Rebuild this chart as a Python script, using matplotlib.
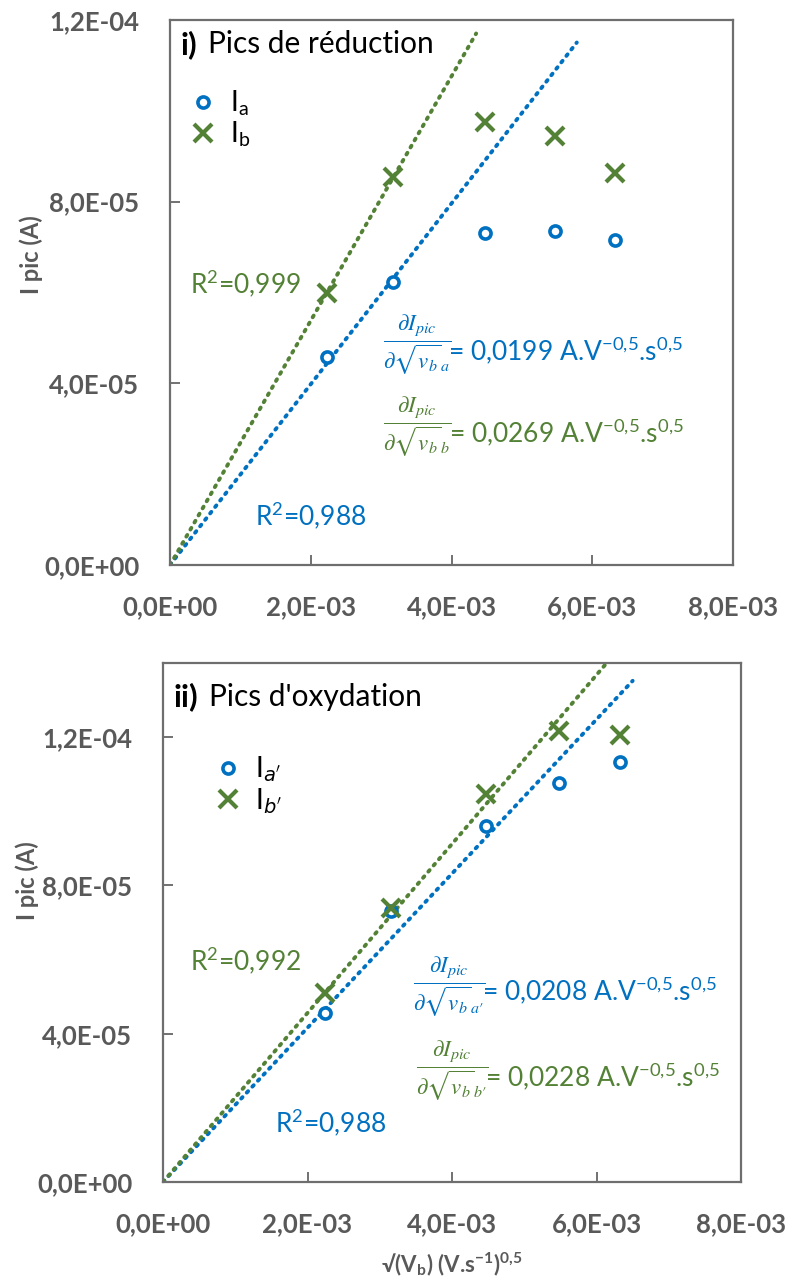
import matplotlib
matplotlib.use("Agg")
import matplotlib.pyplot as plt
from matplotlib.ticker import FuncFormatter, MultipleLocator
import numpy as np

# sqrt of the scan rate, (V/s)^0.5
sqrt_v = [2.236e-3, 3.162e-3, 4.472e-3, 5.477e-3, 6.325e-3]

# i) reduction peaks (A)
red_a = [4.58e-5, 6.23e-5, 7.31e-5, 7.35e-5, 7.15e-5]
red_b = [5.99e-5, 8.54e-5, 9.75e-5, 9.44e-5, 8.63e-5]
red_slope = [0.0199, 0.0269]
red_fit_end = [5.78e-3, 4.35e-3]
red_r2 = ["0,988", "0,999"]

# ii) oxidation peaks (A)
ox_a = [4.56e-5, 7.30e-5, 9.60e-5, 10.76e-5, 11.33e-5]
ox_b = [5.10e-5, 7.40e-5, 10.47e-5, 12.16e-5, 12.06e-5]
ox_slope = [0.0208, 0.0228]
ox_fit_end = [6.5e-3, 6.5e-3]
ox_r2 = ["0,988", "0,992"]

BLUE = "#0070C0"
GREEN = "#538135"
GREY = "#595959"

plt.rcParams["font.family"] = ["Lato", "DejaVu Sans"]


def sci_fmt(x, pos):
    return "{:.1E}".format(x).replace(".", ",")


def draw_panel(ax, ya, yb, slopes, ends, ymax, tag, title, title_y, tag_w,
               labels, leg_anchor):
    for s, e, c in zip(slopes, ends, [BLUE, GREEN]):
        xf = np.array([0.0, e])
        ax.plot(xf, s * xf, color=c, lw=2.8, ls=(0, (0.5, 1.6)),
                dash_capstyle="round", zorder=2)
    ha, = ax.plot(sqrt_v, ya, ls="none", marker="o", ms=8, mfc="white",
                  mec=BLUE, mew=2.6, zorder=3)
    hb, = ax.plot(sqrt_v, yb, ls="none", marker="x", ms=13, mec=GREEN,
                  mew=3, zorder=3)
    ax.set_xlim(0, 8e-3)
    ax.set_ylim(0, ymax)
    ax.xaxis.set_major_locator(MultipleLocator(2e-3))
    ax.yaxis.set_major_locator(MultipleLocator(4e-5))
    ax.xaxis.set_major_formatter(FuncFormatter(sci_fmt))
    ax.yaxis.set_major_formatter(FuncFormatter(sci_fmt))
    ax.tick_params(direction="in", length=7, width=1.2, color=GREY,
                   labelsize=18.5, labelcolor=GREY)
    ax.tick_params(axis="y", pad=22)
    ax.tick_params(axis="x", pad=22)
    for lab in ax.get_xticklabels() + ax.get_yticklabels():
        lab.set_fontweight("bold")
    for sp in ax.spines.values():
        sp.set_color("#6e6e6e")
        sp.set_linewidth(1.6)
    ax.set_ylabel("I pic (A)", fontsize=17, fontweight="bold", color=GREY)
    ax.text(0.018, title_y, tag, transform=ax.transAxes, fontsize=22.5,
            fontweight="bold", va="center", ha="left")
    ax.text(0.018 + tag_w, title_y, title, transform=ax.transAxes,
            fontsize=21.5, va="center", ha="left")
    ax.legend([ha, hb], labels, loc="upper left", bbox_to_anchor=leg_anchor,
              frameon=False, fontsize=20, handlelength=1.0,
              handletextpad=0.45, labelspacing=0.05, borderaxespad=0.0)


fig = plt.figure(figsize=(7.86, 12.77), dpi=100)
ax1 = fig.add_axes([0.2163, 0.5576, 0.7163, 0.4268])
ax2 = fig.add_axes([0.2074, 0.0744, 0.7354, 0.4064])

draw_panel(ax1, red_a, red_b, red_slope, red_fit_end, 1.2e-4, "i)",
           "Pics de réduction", 0.955, 0.05,
           [r"I$_\mathregular{a}$", r"I$_\mathregular{b}$"], (0.015, 0.895))
draw_panel(ax2, ox_a, ox_b, ox_slope, ox_fit_end, 1.4e-4, "ii)",
           "Pics d'oxydation", 0.935, 0.062,
           [r"I$_{a'}$", r"I$_{b'}$"], (0.07, 0.845))

ax1.yaxis.set_label_coords(-0.225, 0.57)
ax2.yaxis.set_label_coords(-0.215, 0.58)
ax2.set_xlabel(r"√(V$_\mathregular{b}$) (V.s$^\mathregular{-1}$)$^\mathregular{0{,}5}$",
               fontsize=16, fontweight="bold", color=GREY, labelpad=10)

unit = r" A.V$^\mathregular{-0{,}5}$.s$^\mathregular{0{,}5}$"


def frac(sub):
    return r"$\dfrac{\partial I_{pic}}{\partial \sqrt{v_b}_{%s}}$" % sub


def slope_txt(v):
    return "= " + "{:.4f}".format(v).replace(".", ",") + unit


# panel i) annotations
ax1.text(0.284e-3, 6.21e-5, r"R$^\mathregular{2}$=" + red_r2[1], color=GREEN,
         fontsize=19, va="center")
ax1.text(1.208e-3, 1.10e-5, r"R$^\mathregular{2}$=" + red_r2[0], color=BLUE,
         fontsize=19, va="center")
ax1.text(3.02e-3, 4.86e-5, frac("a"), color=BLUE, fontsize=16.5, va="center",
         math_fontfamily="stix")
ax1.text(3.95e-3, 4.73e-5, slope_txt(red_slope[0]), color=BLUE, fontsize=19,
         va="center")
ax1.text(3.02e-3, 3.06e-5, frac("b"), color=GREEN, fontsize=16.5, va="center",
         math_fontfamily="stix")
ax1.text(3.97e-3, 2.93e-5, slope_txt(red_slope[1]), color=GREEN, fontsize=19,
         va="center")

# panel ii) annotations
ax2.text(0.374e-3, 5.99e-5, r"R$^\mathregular{2}$=" + ox_r2[1], color=GREEN,
         fontsize=19, va="center")
ax2.text(1.55e-3, 1.62e-5, r"R$^\mathregular{2}$=" + ox_r2[0], color=BLUE,
         fontsize=19, va="center")
ax2.text(3.46e-3, 5.28e-5, frac(r"a\prime"), color=BLUE, fontsize=16.5,
         va="center", math_fontfamily="stix")
ax2.text(4.42e-3, 5.18e-5, slope_txt(ox_slope[0]), color=BLUE, fontsize=19,
         va="center")
ax2.text(3.50e-3, 3.02e-5, frac(r"b\prime"), color=GREEN, fontsize=16.5,
         va="center", math_fontfamily="stix")
ax2.text(4.46e-3, 2.85e-5, slope_txt(ox_slope[1]), color=GREEN, fontsize=19,
         va="center")

fig.savefig("out.png", dpi=100)
